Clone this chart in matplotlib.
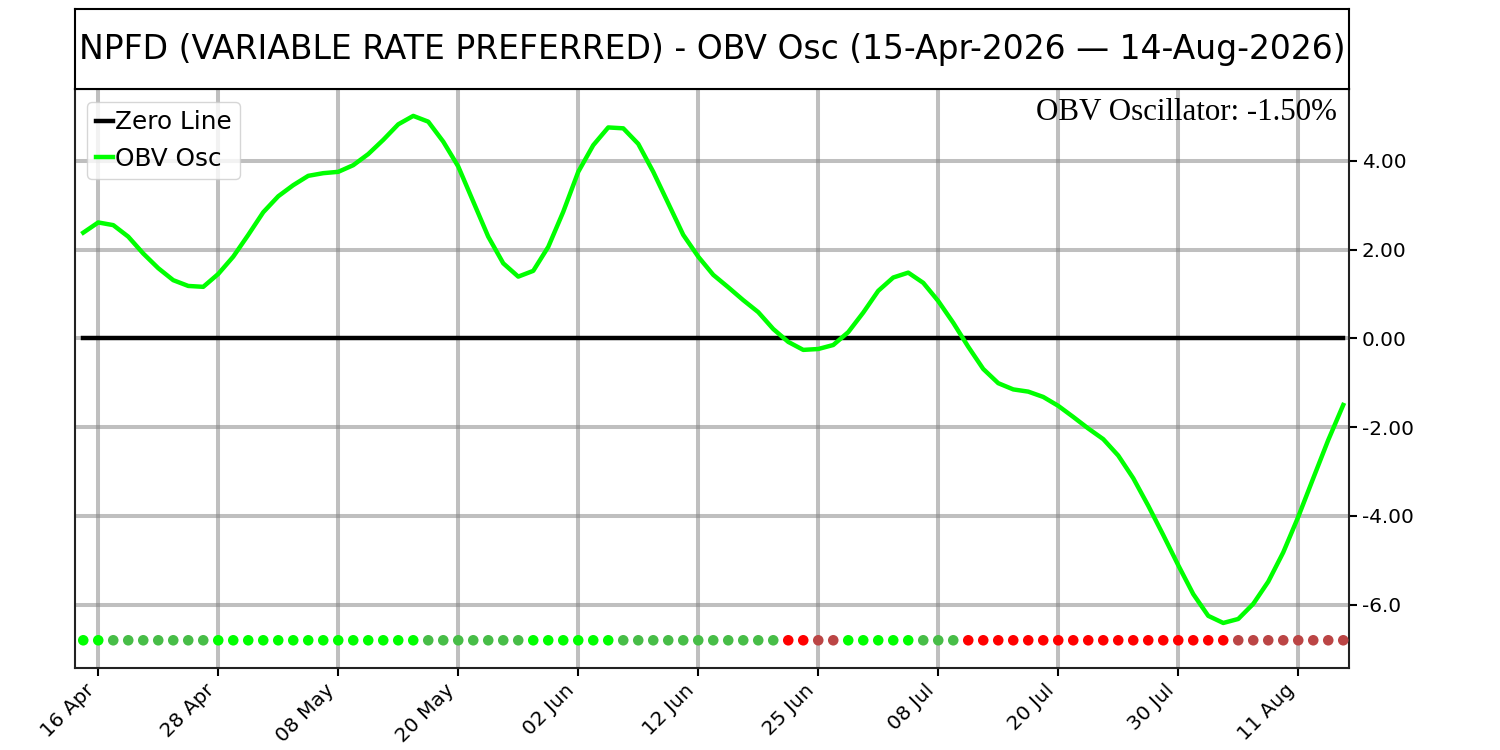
import numpy as np
import pandas as pd
import matplotlib
matplotlib.use("Agg")
import matplotlib.pyplot as plt

# trading days 15 Apr - 14 Aug 2026 (US market holidays removed)
dates = pd.bdate_range("2026-04-15", "2026-08-14", freq="C",
                       holidays=["2026-05-25", "2026-06-19", "2026-07-03"])

obv_osc = [2.38, 2.61, 2.55, 2.29, 1.91, 1.58, 1.31, 1.18, 1.16, 1.45,
           1.84, 2.33, 2.84, 3.20, 3.45, 3.66, 3.72, 3.75, 3.90, 4.15,
           4.47, 4.82, 5.01, 4.88, 4.43, 3.87, 3.08, 2.29, 1.69, 1.39,
           1.52, 2.06, 2.85, 3.75, 4.35, 4.75, 4.73, 4.38, 3.75, 3.04,
           2.33, 1.84, 1.43, 1.15, 0.86, 0.59, 0.21, -0.08, -0.26, -0.24,
           -0.15, 0.14, 0.58, 1.07, 1.37, 1.48, 1.25, 0.84, 0.35, -0.19,
           -0.69, -1.01, -1.15, -1.20, -1.32, -1.52, -1.77, -2.03, -2.27, -2.64,
           -3.15, -3.77, -4.43, -5.11, -5.76, -6.25, -6.41, -6.32, -5.98, -5.48,
           -4.82, -4.02, -3.15, -2.29, -1.50]

# state of each bar: L = up & above zero, G = down & above, R = down & below, B = up & below
states = ("LL" + "G" * 7 + "L" * 14 + "G" * 7 + "L" * 6 + "G" * 11 + "RR" + "BB"
          + "L" * 5 + "GGG" + "R" * 18 + "B" * 8)
state_colors = {"L": "#00ff00", "G": "#47bd47", "R": "#ff0000", "B": "#bb4545"}

ytick_vals = [4, 2, 0, -2, -4, -6]
ytick_labels = ["4.00", "2.00", "0.00", "-2.00", "-4.00", "-6.0"]

title = "NPFD (VARIABLE RATE PREFERRED) - OBV Osc (15-Apr-2026 \u2014 14-Aug-2026)"
last_text = "OBV Oscillator: %.2f%%" % obv_osc[-1]

x = np.arange(len(dates))

fig = plt.figure(figsize=(15, 7.5), dpi=100)
ax = fig.add_axes([0.05, 0.109, 0.8495, 0.772])
tax = fig.add_axes([0.05, 0.881, 0.8495, 0.107])
tax.set_xticks([])
tax.set_yticks([])
tax.text(0.5, 0.5, title, ha="center", va="center", fontsize=23.8,
         transform=tax.transAxes)
for s in tax.spines.values():
    s.set_linewidth(1.5)

ax.plot(x, np.zeros(len(x)), color="black", lw=3.2, label="Zero Line", zorder=3)
ax.plot(x, obv_osc, color="#00ff00", lw=3.2, label="OBV Osc", zorder=4)
ax.scatter(x, np.full(len(x), -6.8), c=[state_colors[s] for s in states],
           s=58, zorder=5, linewidths=0)

ax.set_xlim(-0.55, 84.4)
ax.set_ylim(-7.43, 5.61)
ax.yaxis.tick_right()
ax.set_yticks(ytick_vals)
ax.set_yticklabels(ytick_labels)
ax.set_xticks(x[1::8])
ax.set_xticklabels(dates[1::8].strftime("%d %b"), rotation=45, ha="right")
ax.tick_params(labelsize=14.4, length=5.5, width=1.5)
ax.grid(True, color="gray", alpha=0.5, lw=2.9)
for s in ax.spines.values():
    s.set_linewidth(1.5)
    s.set_color("#222222")

ax.text(0.99, 0.985, last_text, transform=ax.transAxes, ha="right", va="top",
        fontsize=22.3, family="Liberation Serif")
ax.legend(loc="upper left", fontsize=17.8, handlelength=0.7, handletextpad=0.05,
          borderpad=0.35, labelspacing=0.5)

fig.savefig("out.png", dpi=100)
